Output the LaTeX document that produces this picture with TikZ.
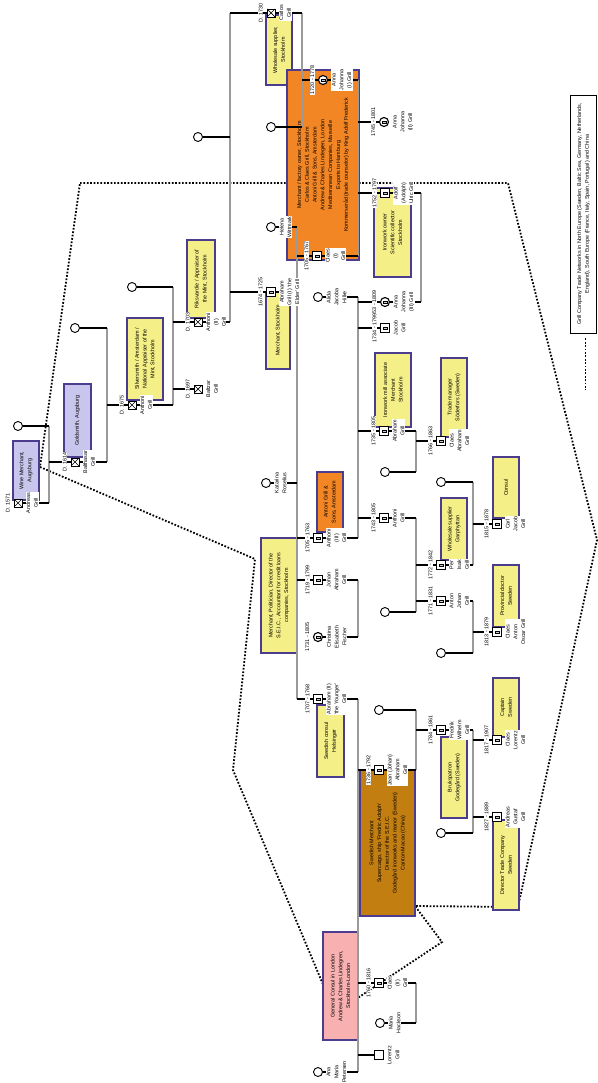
\documentclass[tikz,border=0pt]{standalone}
\usepackage{fontspec}
\setmainfont{Liberation Sans}
\usetikzlibrary{positioning}

\definecolor{jobyellow}{HTML}{F4EF86}
\definecolor{joblilac}{HTML}{C9C6EE}
\definecolor{joborange}{HTML}{F28524}
\definecolor{jobbrown}{HTML}{C37E12}
\definecolor{jobpink}{HTML}{F9B0B0}
\definecolor{jobline}{HTML}{4B3C8E}
\definecolor{stemgray}{HTML}{9A9A9A}

\pgfdeclarelayer{back}
\pgfdeclarelayer{boxes}
\pgfdeclarelayer{lines}
\pgfsetlayers{back,boxes,lines,main}

\begin{document}
\begin{tikzpicture}[x=1pt, y=-1pt,
	every node/.style={font=\fontsize{5.4}{7.8}\selectfont},
	deadm/.style={rectangle, draw, line width=0.9pt, fill=white, minimum size=8pt, inner sep=0pt,
		path picture={\draw[line width=0.7pt] (path picture bounding box.south west) -- (path picture bounding box.north east)
			(path picture bounding box.north west) -- (path picture bounding box.south east);}},
	agem/.style={rectangle, draw, line width=1.1pt, fill=white, minimum size=8.5pt, inner sep=0pt,
		path picture={\draw[line width=0.35pt, fill=black!20] ([shift={(-1.7pt,-1.2pt)}]path picture bounding box.center) rectangle ([shift={(1.7pt,1.2pt)}]path picture bounding box.center);}},
	agef/.style={circle, draw, line width=1.1pt, fill=white, minimum size=9pt, inner sep=0pt,
		path picture={\draw[line width=0.35pt, fill=black!20] ([shift={(-1.7pt,-1.2pt)}]path picture bounding box.center) rectangle ([shift={(1.7pt,1.2pt)}]path picture bounding box.center);}},
	fem/.style={circle, draw, line width=0.9pt, fill=white, minimum size=9pt, inner sep=0pt},
	male/.style={rectangle, draw, line width=0.9pt, fill=white, minimum size=9pt, inner sep=0pt},
	who/.style={rotate=90, anchor=north, fill=white, inner sep=0.6pt, align=center},
	when/.style={rotate=90, anchor=south, fill=white, inner sep=0.6pt},
	jobbox/.style={rotate=90, draw=jobline, line width=1.1pt, inner sep=1pt, align=center},
	yjob/.style={jobbox, fill=jobyellow},
	ljob/.style={jobbox, fill=joblilac},
	ojob/.style={jobbox, fill=joborange},
	bjob/.style={jobbox, fill=jobbrown},
	pjob/.style={jobbox, fill=jobpink},
	tie/.style={line width=1.1pt},
	stem/.style={draw=stemgray, line width=1.1pt},
	trade/.style={line width=1.8pt, dash pattern=on 1.7pt off 1.7pt}
	]

	\useasboundingbox (0,0) rectangle (597,1083);

	\node(andreas)[deadm] at (18,503) {};
	\node(andreas-d)[left=3pt of andreas, when] {D. 1571};
	\node(andreas-n)[right=3pt of andreas, who] {Andreas\\Grill};
	\node(andreas-w)[fem] at (18,426) {};

	\node(balthasar)[deadm] at (75,462) {};
	\node(balthasar-d)[left=3pt of balthasar, when] {D. 1614};
	\node(balthasar-n)[right=3pt of balthasar, who] {Balthasar\\Grill};
	\node(balthasar-w)[fem] at (75,328) {};

	\node(anthoni1)[deadm] at (132,405) {};
	\node(anthoni1-d)[left=3pt of anthoni1, when] {D. 1675};
	\node(anthoni1-n)[right=3pt of anthoni1, who] {Anthoni\\Grill};
	\node(anthoni1-w)[fem] at (132,287) {};

	\node(anthoni2)[deadm] at (198,322) {};
	\node(anthoni2-d)[left=3pt of anthoni2, when] {D. 1703};
	\node(anthoni2-n)[right=3pt of anthoni2, who] {Anthoni\\(II)\\Grill};
	\node(baltzar)[deadm] at (198,389) {};
	\node(baltzar-d)[left=3pt of baltzar, when] {D. 1697};
	\node(baltzar-n)[right=3pt of baltzar, who] {Baltzar\\Grill};
	\node(anthoni2-w)[fem] at (198,137) {};

	\node(carlos)[deadm] at (271,13) {};
	\node(carlos-d)[left=3pt of carlos, when] {D. 1730};
	\node(carlos-n)[right=3pt of carlos, who] {Carlos\\Grill};
	\node(carlos-w)[fem] at (271,127) {};
	\node(helena)[fem] at (271,227) {};
	\node(helena-n)[right=3pt of helena, who] {Helena\\Wittmark};
	\node(abraham1)[agem] at (271,292) {};
	\node(abraham1-d)[left=3pt of abraham1, when] {1674 - 1725};
	\node(abraham1-n)[right=3pt of abraham1, who] {Abraham\\Grill (I) `the\\Elder' Grill};
	\node(katarina)[fem] at (266,483) {};
	\node(katarina-n)[right=3pt of katarina, who] {Katarina\\Roselius};

	\node(annaj1)[agef] at (323,80) {};
	\node(annaj1-d)[left=3pt of annaj1, when] {1720 - 1778};
	\node(annaj1-n)[right=3pt of annaj1, who] {Anna\\Johanna\\(I) Grill};
	\node(claes1)[agem] at (317,256) {};
	\node(claes1-d)[left=3pt of claes1, when] {1705 - 1767};
	\node(claes1-n)[right=3pt of claes1, who] {Claes\\(I)\\Grill};
	\node(alida)[fem] at (318,297) {};
	\node(alida-n)[right=3pt of alida, who] {Alida\\Jacoba\\Hilke};
	\node(anthoni3)[agem] at (318,538) {};
	\node(anthoni3-d)[left=3pt of anthoni3, when] {1705 - 1763};
	\node(anthoni3-n)[right=3pt of anthoni3, who] {Anthoni\\(III)\\Grill};
	\node(johanab)[agem] at (318,580) {};
	\node(johanab-d)[left=3pt of johanab, when] {1719 - 1799};
	\node(johanab-n)[right=3pt of johanab, who] {Johan\\Abraham\\Grill};
	\node(christina)[agef] at (318,637) {};
	\node(christina-d)[left=3pt of christina, when] {1731 - 1805};
	\node(christina-n)[right=3pt of christina, who] {Christina\\Elisabeth\\Fischer};
	\node(abraham2)[agem] at (318,699) {};
	\node(abraham2-d)[left=3pt of abraham2, when] {1707 - 1768};
	\node(abraham2-n)[right=3pt of abraham2, who] {Abraham (II)\\`the Younger'\\Grill};
	\node(anamaria)[fem] at (318,1072) {};
	\node(anamaria-n)[right=3pt of anamaria, who] {Ana\\Maria\\Petersen};

	\node(annaj2)[agef] at (384,122) {};
	\node(annaj2-d)[left=3pt of annaj2, when] {1745 - 1801};
	\node(annaj2-n)[right=3pt of annaj2, who] {Anna\\Johanna\\(II) Grill};
	\node(adolf)[agem] at (385,193) {};
	\node(adolf-d)[left=3pt of adolf, when] {1752 - 1797};
	\node(adolf-n)[right=3pt of adolf, who] {Adolf\\(Adolph)\\Ulric Grill};
	\node(annaj3)[agef] at (385,302) {};
	\node(annaj3-d)[left=3pt of annaj3, when] {53 - 1809};
	\node(annaj3-n)[right=3pt of annaj3, who] {Anna\\Johanna\\(III) Grill};
	\node(jacob)[agem] at (385,328) {};
	\node(jacob-d)[left=3pt of jacob, when] {1734 - 1799};
	\node(jacob-n)[right=3pt of jacob, who] {Jacob\\Grill};
	\node(abraham3)[agem] at (384,431) {};
	\node(abraham3-d)[left=3pt of abraham3, when] {1735 - 1805};
	\node(abraham3-n)[right=3pt of abraham3, who] {Abraham\\Grill};
	\node(abraham3-w)[fem] at (385,472) {};
	\node(anthoni4)[agem] at (384,518) {};
	\node(anthoni4-d)[left=3pt of anthoni4, when] {1743 - 1805};
	\node(anthoni4-n)[right=3pt of anthoni4, who] {Anthoni\\Grill};
	\node(anthoni4-w)[fem] at (385,612) {};
	\node(jean-w)[fem] at (379,710) {};
	\node(jean)[agem] at (379,770) {};
	\node(jean-d)[left=3pt of jean, when] {1736 - 1792};
	\node(jean-n)[right=3pt of jean, who] {Jean (Johan)\\Abraham\\Grill};
	\node(claes2)[agem] at (379,983) {};
	\node(claes2-d)[left=3pt of claes2, when] {1760 - 1816};
	\node(claes2-n)[right=3pt of claes2, who] {Claes\\(II)\\Grill};
	\node(maria)[fem] at (380,1023) {};
	\node(maria-n)[right=3pt of maria, who] {Maria\\Hackson};
	\node(lorentz)[male] at (379,1055) {};
	\node(lorentz-n)[right=3pt of lorentz, who] {Lorentz\\Grill};

	\node(claesab)[agem] at (441,441) {};
	\node(claesab-d)[left=3pt of claesab, when] {1766 - 1863};
	\node(claesab-n)[right=3pt of claesab, who] {Claes\\Abraham\\Grill};
	\node(perisak-w)[fem] at (441,482) {};
	\node(perisak)[agem] at (441,565) {};
	\node(perisak-d)[left=3pt of perisak, when] {1772 - 1842};
	\node(perisak-n)[right=3pt of perisak, who] {Per\\Isak\\Grill};
	\node(antonjo)[agem] at (441,601) {};
	\node(antonjo-d)[left=3pt of antonjo, when] {1771 - 1831};
	\node(antonjo-n)[right=3pt of antonjo, who] {Anton\\Johan\\Grill};
	\node(antonjo-w)[fem] at (441,653) {};
	\node(fredrik)[agem] at (441,730) {};
	\node(fredrik-d)[left=3pt of fredrik, when] {1784 - 1861};
	\node(fredrik-n)[right=3pt of fredrik, who] {Fredrik\\Wilhelm\\Grill};
	\node(fredrik-w)[fem] at (441,833) {};

	\node(carljac)[agem] at (497,524) {};
	\node(carljac-d)[left=3pt of carljac, when] {1815 - 1878};
	\node(carljac-n)[right=3pt of carljac, who] {Carl\\Jacob\\Grill};
	\node(claesao)[agem] at (497,632) {};
	\node(claesao-d)[left=3pt of claesao, when] {1813 - 1879};
	\node(claesao-n)[right=3pt of claesao, who] {Claes\\Anton\\Oscar Grill};
	\node(claeslo)[agem] at (497,740) {};
	\node(claeslo-d)[left=3pt of claeslo, when] {1817 - 1907};
	\node(claeslo-n)[right=3pt of claeslo, who] {Claes\\Lorentz\\Grill};
	\node(andreasgu)[agem] at (497,817) {};
	\node(andreasgu-d)[left=3pt of andreasgu, when] {1827 - 1889};
	\node(andreasgu-n)[right=3pt of andreasgu, who] {Andreas\\Gustaf\\Grill};

	\begin{pgfonlayer}{boxes}
	\node(job-wine)[ljob, minimum width=59pt, minimum height=26pt] at (26,470.5) {Wine Merchant,\\Augsburg};
	\node(job-gold)[ljob, minimum width=73pt, minimum height=27pt] at (77.5,420.5) {Goldsmith, Augsburg};
	\node(job-silver)[yjob, minimum width=82pt, minimum height=36pt] at (145,359) {Silversmith / Amsterdam /\\National Appraiser of the\\Mint, Stockholm};
	\node(job-riks)[yjob, minimum width=78pt, minimum height=28pt] at (201,279) {Riksvardie / Appraiser of\\the Mint, Stockholm};
	\node(job-whole1)[yjob, minimum width=70pt, minimum height=26pt] at (279,50) {Wholesale supplier,\\Stockholm};
	\node(job-merch)[yjob, minimum width=77pt, minimum height=24pt] at (278,330.5) {Merchant, Stockholm};
	\node(job-claes)[ojob, minimum width=190pt, minimum height=72pt] at (323,165) {Merchant / factory owner, Stockholm\\Carlos \& Claes Grill, Stockholm\\Antoni Grill \& Sons, Amsterdam\\Andrew \& Charles Lindegren, London\\Mediterranean Companies, Marseille\\Exports to Hamburg\\Kommerseråd (trade counselor) by King Adolf Frederick};
	\node(job-iron)[yjob, minimum width=89pt, minimum height=37pt] at (392.5,232.5) {Ironwork owner\\Scientific collector\\Stockholm};
	\node(job-mill)[yjob, minimum width=74pt, minimum height=36pt] at (393,390) {Ironwork mill associate\\Merchant\\Stockholm};
	\node(job-trade)[yjob, minimum width=79pt, minimum height=26pt] at (454,397.5) {Trade manager\\Söderfors (Sweden)};
	\node(job-sons)[ojob, minimum width=60pt, minimum height=26pt] at (330,502) {Antoni Grill \&\\Sons, Amsterdam};
	\node(job-polit)[yjob, minimum width=115pt, minimum height=36pt] at (279,595.5) {Merchant, Politician, Director of the\\S.E.I.C., Accountant for credit loans\\companies, Stockholm};
	\node(job-whole2)[yjob, minimum width=62pt, minimum height=26pt] at (454,529) {Wholesale supplier\\Garphyttan};
	\node(job-consul)[yjob, minimum width=61pt, minimum height=26pt] at (506,487.5) {Consul};
	\node(job-doctor)[yjob, minimum width=62pt, minimum height=26pt] at (506,596) {Provincial doctor\\Sweden};
	\node(job-helsing)[yjob, minimum width=72pt, minimum height=27pt] at (330.5,741) {Swedish consul\\Helsingør};
	\node(job-jean)[bjob, minimum width=146pt, minimum height=55pt] at (387.5,843) {Swedish Merchant\\Supercargo, ship `Fredric Adolph'\\Director of the S.E.I.C.\\Godegård ironworks and manor (Sweden)\\Canton-Macao (China)};
	\node(job-bruk)[yjob, minimum width=81pt, minimum height=26pt] at (454,777.5) {Brukspatron\\Godegård (Sweden)};
	\node(job-captain)[yjob, minimum width=59pt, minimum height=26pt] at (506,707.5) {Captain\\Sweden};
	\node(job-director)[yjob, minimum width=90pt, minimum height=26pt] at (506,865) {Director Trade Company\\Sweden};
	\node(job-london)[pjob, minimum width=108pt, minimum height=35pt] at (340.5,986) {General Consul in London\\Andrew \& Charles Lindegren,\\Stockholm-London};
	\node(legend)[rotate=90, draw, line width=0.8pt, fill=white, align=center, inner sep=0.5pt, minimum width=238pt, minimum height=26pt] at (583.5,214) {Grill Company Trade Networks in North Europe (Sweden, Baltic Sea, Germany, Netherlands,\\England), South Europe (France, Italy, Spain, Portugal) and China};
	\end{pgfonlayer}

	\begin{pgfonlayer}{lines}
	\coordinate(f1) at (49,0);
	\coordinate(f2) at (107,0);
	\coordinate(f3) at (173,0);
	\coordinate(f4) at (230,0);
	\coordinate(f5) at (302,0);
	\coordinate(f6) at (297,0);
	\coordinate(f7) at (358,0);
	\coordinate(f8) at (416,0);
	\coordinate(f9) at (421,0);
	\coordinate(f10) at (473,0);

	\draw[stem] (andreas-w -| f1) -- (andreas -| f1);
	\foreach \p in {andreas,andreas-w,balthasar} \draw[tie] (\p) -- (\p -| f1);
	\draw[stem] (balthasar-w -| f2) -- (balthasar -| f2);
	\foreach \p in {balthasar,balthasar-w,anthoni1} \draw[tie] (\p) -- (\p -| f2);
	\draw[stem] (anthoni1-w -| f3) -- (anthoni1 -| f3);
	\foreach \p in {anthoni1,anthoni1-w,anthoni2,baltzar} \draw[tie] (\p) -- (\p -| f3);
	\draw[stem] (carlos -| f4) -- (anthoni2 -| f4);
	\foreach \p in {anthoni2,anthoni2-w,carlos,abraham1} \draw[tie] (\p) -- (\p -| f4);
	\draw[stem] (carlos -| f5) -- (carlos-w -| f5);
	\foreach \p in {carlos,carlos-w,annaj1} \draw[tie] (\p) -- (\p -| f5);
	\draw[stem] (helena -| f6) -- (abraham2 -| f6);
	\foreach \p in {abraham1,helena,katarina,claes1,anthoni3,johanab,abraham2} \draw[tie] (\p) -- (\p -| f6);

	\draw[stem] (annaj1 -| f7) -- (claes1 -| f7);
	\foreach \p in {claes1,annaj1,annaj2,adolf} \draw[tie] (\p) -- (\p -| f7);
	\draw[stem] (alida -| f7) -- (anthoni3 -| f7);
	\foreach \p in {anthoni3,alida,annaj3,jacob,abraham3,anthoni4} \draw[tie] (\p) -- (\p -| f7);
	\draw[stem] (johanab -| f7) -- (christina -| f7);
	\foreach \p in {johanab,christina} \draw[tie] (\p) -- (\p -| f7);
	\draw[stem] (abraham2 -| f7) -- (anamaria -| f7);
	\foreach \p in {abraham2,anamaria,jean,claes2,lorentz} \draw[tie] (\p) -- (\p -| f7);

	\draw[stem] (adolf -| f9) -- (annaj3 -| f9);
	\foreach \p in {adolf,annaj3} \draw[tie] (\p) -- (\p -| f9);
	\draw[stem] (abraham3 -| f8) -- (abraham3-w -| f8);
	\foreach \p in {abraham3,abraham3-w,claesab} \draw[tie] (\p) -- (\p -| f8);
	\draw[stem] (anthoni4 -| f8) -- (anthoni4-w -| f8);
	\foreach \p in {anthoni4,anthoni4-w,perisak,antonjo} \draw[tie] (\p) -- (\p -| f8);
	\draw[stem] (jean-w -| f8) -- (jean -| f8);
	\foreach \p in {jean,jean-w,fredrik} \draw[tie] (\p) -- (\p -| f8);
	\draw[stem] (claes2 -| f8) -- (maria -| f8);
	\foreach \p in {claes2,maria} \draw[tie] (\p) -- (\p -| f8);

	\draw[stem] (perisak-w -| f10) -- (perisak -| f10);
	\foreach \p in {perisak,perisak-w,carljac} \draw[tie] (\p) -- (\p -| f10);
	\draw[stem] (antonjo -| f10) -- (antonjo-w -| f10);
	\foreach \p in {antonjo,antonjo-w,claesao} \draw[tie] (\p) -- (\p -| f10);
	\draw[stem] (fredrik -| f10) -- (fredrik-w -| f10);
	\foreach \p in {fredrik,fredrik-w,claeslo,andreasgu} \draw[tie] (\p) -- (\p -| f10);
	\end{pgfonlayer}

	\begin{pgfonlayer}{back}
	\draw[trade] (80,183) -- (508,183) -- (597,540) -- (518,907) -- (415,906) -- (442,942) -- (335,1013) -- (233,770) -- (255,559) -- (40,467) -- cycle;
	\draw[trade] (legend.west) ++(2,5) -- ++(0,52);
	\end{pgfonlayer}

\end{tikzpicture}
\end{document}
